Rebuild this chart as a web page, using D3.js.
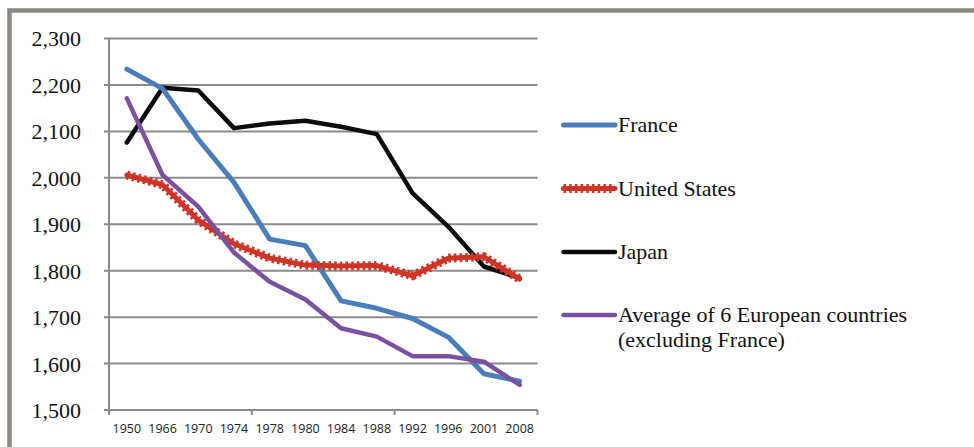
<!DOCTYPE html>
<html>
<head>
<meta charset="utf-8">
<script src="https://cdn.jsdelivr.net/npm/d3@7/dist/d3.min.js"></script>
<style>
  html, body { margin: 0; padding: 0; background: #fff; }
  svg { display: block; }
</style>
</head>
<body>
<svg id="chart" width="974" height="447"></svg>
<script>
// Annual hours worked per person, 1950–2008
const years = ["1950", "1966", "1970", "1974", "1978", "1980", "1984", "1988", "1992", "1996", "2001", "2008"];
const france   = [2234, 2192, 2083, 1990, 1868, 1854, 1735, 1719, 1697, 1657, 1578, 1562];
const usa      = [2006, 1985, 1909, 1858, 1827, 1812, 1810, 1811, 1789, 1827, 1830, 1782];
const japan    = [2076, 2194, 2188, 2107, 2117, 2123, 2110, 2094, 1967, 1895, 1809, 1784];
const europe6  = [2171, 2006, 1938, 1839, 1776, 1738, 1676, 1658, 1616, 1616, 1604, 1554];
const yTicks   = [1500, 1600, 1700, 1800, 1900, 2000, 2100, 2200, 2300];
const seriesNames = ["France", "United States", "Japan", "Average of 6 European countries", "(excluding France)"];

const series = [
  { name: seriesNames[0], values: france,  color: "#4a7ebb", width: 5,   style: "solid" },
  { name: seriesNames[1], values: usa,     color: "#cf3427", width: 5,   style: "cross" },
  { name: seriesNames[2], values: japan,   color: "#0b0d0b", width: 4.5, style: "solid" },
  { name: seriesNames[3], values: europe6, color: "#7b509f", width: 4.5, style: "solid", extra: seriesNames[4] }
];

const svg = d3.select("#chart");
const plotL = 109, plotR = 537.5, plotT = 38.5, plotB = 410;
const gridColor = "#8d8b88";

// outer frame
svg.append("path")
  .attr("d", "M9.5,447 L9.5,10.5 L974,10.5")
  .attr("fill", "none").attr("stroke", "#8c8780").attr("stroke-width", 4.5);

const xBand = d3.scaleBand().domain(years).range([plotL, plotR]).paddingInner(0).paddingOuter(0);
const x = d => xBand(d) + xBand.bandwidth() / 2;
const y = d3.scaleLinear().domain([1500, 2300]).range([plotB, plotT]);

// horizontal gridlines + left tick marks
svg.append("g").selectAll("line").data(yTicks).join("line")
  .attr("x1", plotL - 5).attr("x2", plotR)
  .attr("y1", d => y(d)).attr("y2", d => y(d))
  .attr("stroke", gridColor).attr("stroke-width", 2);

// y axis line
svg.append("line")
  .attr("x1", plotL).attr("x2", plotL).attr("y1", plotT).attr("y2", plotB + 5)
  .attr("stroke", gridColor).attr("stroke-width", 2);

// x tick marks every 4 categories
const xTickIdx = [4, 8, 12];
svg.append("g").selectAll("line").data(xTickIdx).join("line")
  .attr("x1", i => plotL + i * xBand.step()).attr("x2", i => plotL + i * xBand.step())
  .attr("y1", plotB).attr("y2", plotB + 5)
  .attr("stroke", gridColor).attr("stroke-width", 2);

// y tick labels
const yAxis = d3.axisLeft(y).tickValues(yTicks).tickFormat(d3.format(",")).tickSize(0).tickPadding(0);
const gy = svg.append("g").attr("transform", `translate(${plotL - 28},0)`).call(yAxis);
gy.select(".domain").remove();
gy.selectAll("text")
  .attr("font-family", "'Liberation Serif', 'Times New Roman', serif")
  .attr("font-size", 22).attr("fill", "#111").attr("dy", "0.34em");

// x tick labels
const xAxis = d3.axisBottom(xBand).tickSize(0).tickPadding(0);
const gx = svg.append("g").attr("transform", `translate(0,${plotB + 14})`).call(xAxis);
gx.select(".domain").remove();
gx.selectAll("text")
  .attr("font-family", "'Open Sans', 'Liberation Sans', sans-serif")
  .attr("font-size", 12.5).attr("fill", "#222").attr("dy", "0.71em");

// series lines
const line = d3.line().x((d, i) => x(years[i])).y(d => y(d));
const drawLine = (g, s, path) => {
  g.append("path").attr("d", path).attr("fill", "none")
    .attr("stroke", s.color).attr("stroke-width", s.width)
    .attr("stroke-linejoin", "round").attr("stroke-linecap", "round");
  if (s.style === "cross") {
    g.append("path").attr("d", path).attr("fill", "none")
      .attr("stroke", s.color).attr("stroke-width", 9)
      .attr("stroke-dasharray", "2.5,3.2");
  }
};
const order = [series[2], series[0], series[1], series[3]];
order.forEach(s => drawLine(svg.append("g"), s, line(s.values)));

// legend
const legendY = [125, 188.5, 252, 315];
const lg = svg.append("g");
series.forEach((s, i) => {
  const ly = legendY[i];
  drawLine(lg, s, `M563.5,${ly} L615,${ly}`);
  lg.append("text")
    .attr("x", 618).attr("y", ly + 7)
    .attr("font-family", "'Liberation Serif', 'Times New Roman', serif")
    .attr("font-size", 22).attr("fill", "#111")
    .text(s.name);
  if (s.extra) {
    lg.append("text")
      .attr("x", 618).attr("y", ly + 32)
      .attr("font-family", "'Liberation Serif', 'Times New Roman', serif")
      .attr("font-size", 22).attr("fill", "#111")
      .text(s.extra);
  }
});
</script>
</body>
</html>
